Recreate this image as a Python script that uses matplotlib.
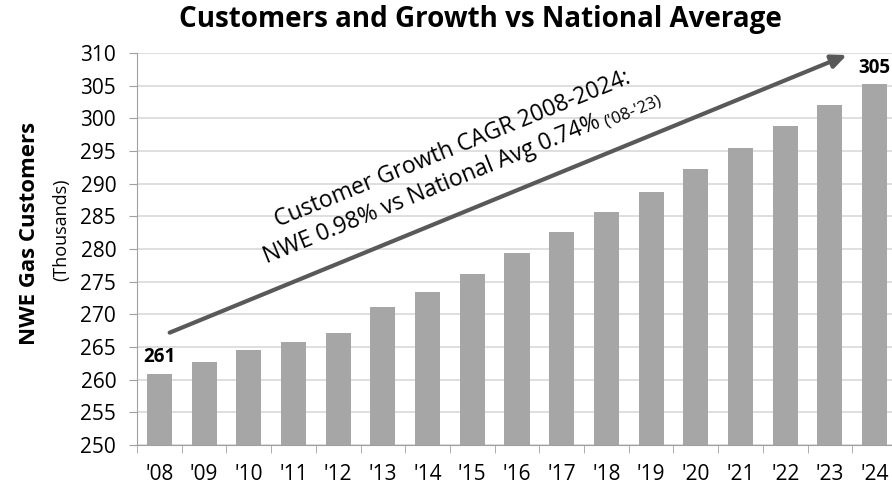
import numpy as np
import matplotlib
matplotlib.use("Agg")
import matplotlib.pyplot as plt

plt.rcParams['font.family'] = ['Open Sans', 'DejaVu Sans']

years = ["'08", "'09", "'10", "'11", "'12", "'13", "'14", "'15", "'16",
         "'17", "'18", "'19", "'20", "'21", "'22", "'23", "'24"]
customers = [260.9, 262.7, 264.5, 265.7, 267.2, 271.1, 273.4, 276.1, 279.4,
             282.6, 285.6, 288.7, 292.2, 295.5, 298.8, 302.1, 305.2]
label_idx = [0, 16]
label_text = ["261", "305"]

fig = plt.figure(figsize=(8.92, 4.9), dpi=100)
ax = fig.add_axes([0.1536, 0.0918, 0.852, 0.8])

x = np.arange(len(years))
ax.bar(x, customers, width=0.56, color="#A6A6A6", zorder=2)

ax.set_ylim(250, 310)
ax.set_yticks(np.arange(250, 311, 5))
ax.set_xlim(-0.5, 16.5)
ax.set_xticks(x)
ax.set_xticklabels(years)
ax.set_xticks(np.arange(-0.5, 16.6, 1), minor=True)
ax.tick_params(axis="x", which="major", length=0, pad=14, labelsize=15)
ax.tick_params(axis="x", which="minor", length=6, color="#A0A0A0")
ax.tick_params(axis="y", length=6, color="#A0A0A0", labelsize=15, pad=9)
ax.grid(axis="y", color="#D9D9D9", linewidth=1.2, zorder=0)
for s in ["top", "right"]:
    ax.spines[s].set_visible(False)
for s in ["left", "bottom"]:
    ax.spines[s].set_color("#A0A0A0")

for i, t in zip(label_idx, label_text):
    ax.text(x[i], customers[i] + 1.0, t, ha="center", va="bottom",
            fontsize=13.5, fontweight="bold")

# trend arrow
ax.annotate("", xy=(15.38, 309.7), xytext=(0.23, 267.2),
            arrowprops=dict(arrowstyle="-|>,head_length=0.9,head_width=0.4",
                            color="#595959", lw=3, shrinkA=0, shrinkB=0),
            zorder=3)

ang = 22.2
fig.text(278 / 892, 1 - 227 / 490, "Customer Growth CAGR 2008-2024:",
         rotation=ang, ha="left", va="baseline", rotation_mode="anchor",
         fontsize=16.6)
fig.text(267 / 892, 1 - 263 / 490, "NWE 0.98% vs National Avg 0.74%",
         rotation=ang, ha="left", va="baseline", rotation_mode="anchor",
         fontsize=16.6)
fig.text(606 / 892, 1 - 127 / 490, "('08-'23)",
         rotation=ang, ha="left", va="baseline", rotation_mode="anchor",
         fontsize=12)

fig.text(480 / 892, 1 - 19 / 490, "Customers and Growth vs National Average",
         ha="center", va="center", fontsize=20, fontweight="bold")
fig.text(30 / 892, 1 - 233 / 490, "NWE Gas Customers", rotation=90,
         ha="center", va="center", fontsize=16, fontweight="bold")
fig.text(61 / 892, 1 - 230 / 490, "(Thousands)", rotation=90,
         ha="center", va="center", fontsize=13)

fig.savefig("out.png", dpi=100)
